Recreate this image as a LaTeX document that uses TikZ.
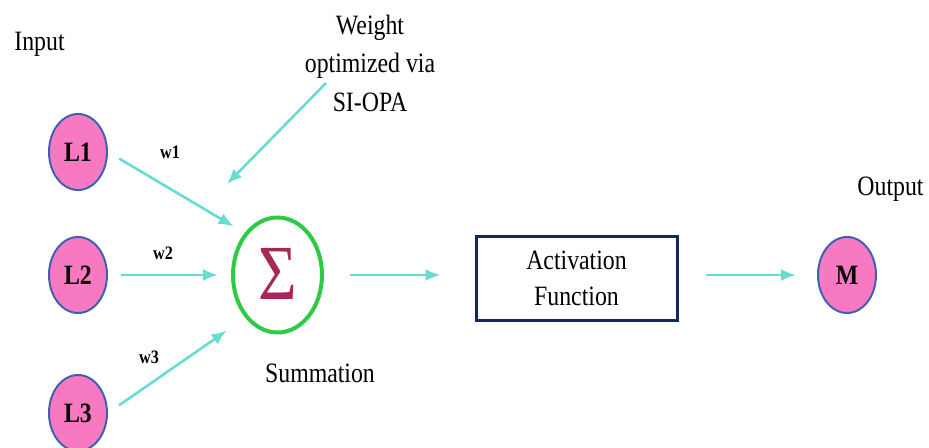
\documentclass[tikz,border=0pt]{standalone}
\usepackage{fontspec}
\setmainfont{Liberation Serif}[FakeStretch=0.85]
\usetikzlibrary{%
  arrows.meta,%
  shapes.geometric%
}
\definecolor{neuronpink}{HTML}{F779C1}
\definecolor{neuronblue}{HTML}{3F62B0}
\definecolor{linkcyan}{HTML}{66DECF}
\definecolor{sumgreen}{HTML}{2DCB45}
\definecolor{boxnavy}{HTML}{14285E}
\definecolor{sigmared}{HTML}{A8275A}
\tikzset{>={Latex[length=7.5pt,width=6pt]}}
\tikzset{
  neuron/.style={ellipse,draw=neuronblue,line width=1pt,fill=neuronpink,
    minimum width=29pt,minimum height=38pt,inner sep=0pt,
    font=\fontsize{14}{15}\selectfont\bfseries},
  link/.style={->,draw=linkcyan,line width=1.3pt},
  wlabel/.style={anchor=base,font=\fontsize{9.5}{11}\selectfont\bfseries},
  plain/.style={font=\fontsize{14}{18}\selectfont}
}

\begin{document}
\begin{tikzpicture}[x=0.5pt,y=-0.5pt]
    \useasboundingbox (0,0) rectangle (929,448);
    % inputs
    \node[neuron] (L1) at (78,152) {L1};
    \node[neuron] (L2) at (78,275) {L2};
    \node[neuron] (L3) at (78,413) {L3};
    \node[plain,anchor=base west,inner sep=0pt] (inp) at (14,51) {Input};
    % summation
    \node[ellipse,draw=sumgreen,line width=2pt,minimum width=44.5pt,
      minimum height=57.5pt,inner sep=0pt] (sum) at (277.5,275) {};
    \node[text=sigmared,font=\fontsize{39}{40}\selectfont] (sig) at (277.5,274) {Σ};
    \node[plain,anchor=base] (sumlab) at (320,382) {Summation};
    % activation and output
    \node[draw=boxnavy,line width=1.5pt,minimum width=100.5pt,minimum height=41.5pt,
      align=center,plain] (act) at (576.5,278.5) {Activation\\Function};
    \node[neuron] (M) at (847,275) {M};
    \node[plain,anchor=base west,inner sep=0pt] (out) at (857,196) {Output};
    % weight note
    \node[align=center,font=\fontsize{14}{19.25}\selectfont] (wt) at (370,63)
      {Weight\\optimized via\\SI-OPA};
    \coordinate (wtail) at (326,83);
    \coordinate (whead) at (227,184);
    % connections
    \draw[link,shorten <=6.5pt,shorten >=6.4pt] (L1.east) -- (sum.128);
    \draw[link,shorten <=6.5pt,shorten >=6.5pt] (L2.east) -- (sum.west);
    \draw[link,shorten <=6.7pt,shorten >=11.3pt] (L3.east) -- (sum.233);
    \draw[link] (wtail) -- (whead);
    \draw[link,shorten <=13pt,shorten >=17pt] (sum.east) -- (sum.east -| act.west);
    \draw[link,shorten <=13.5pt,shorten >=10.5pt] (M.west -| act.east) -- (M.west);
    \node[wlabel] (w1) at (170,159) {w1};
    \node[wlabel] (w2) at (163,260) {w2};
    \node[wlabel] (w3) at (149,363) {w3};
\end{tikzpicture}
\end{document}
